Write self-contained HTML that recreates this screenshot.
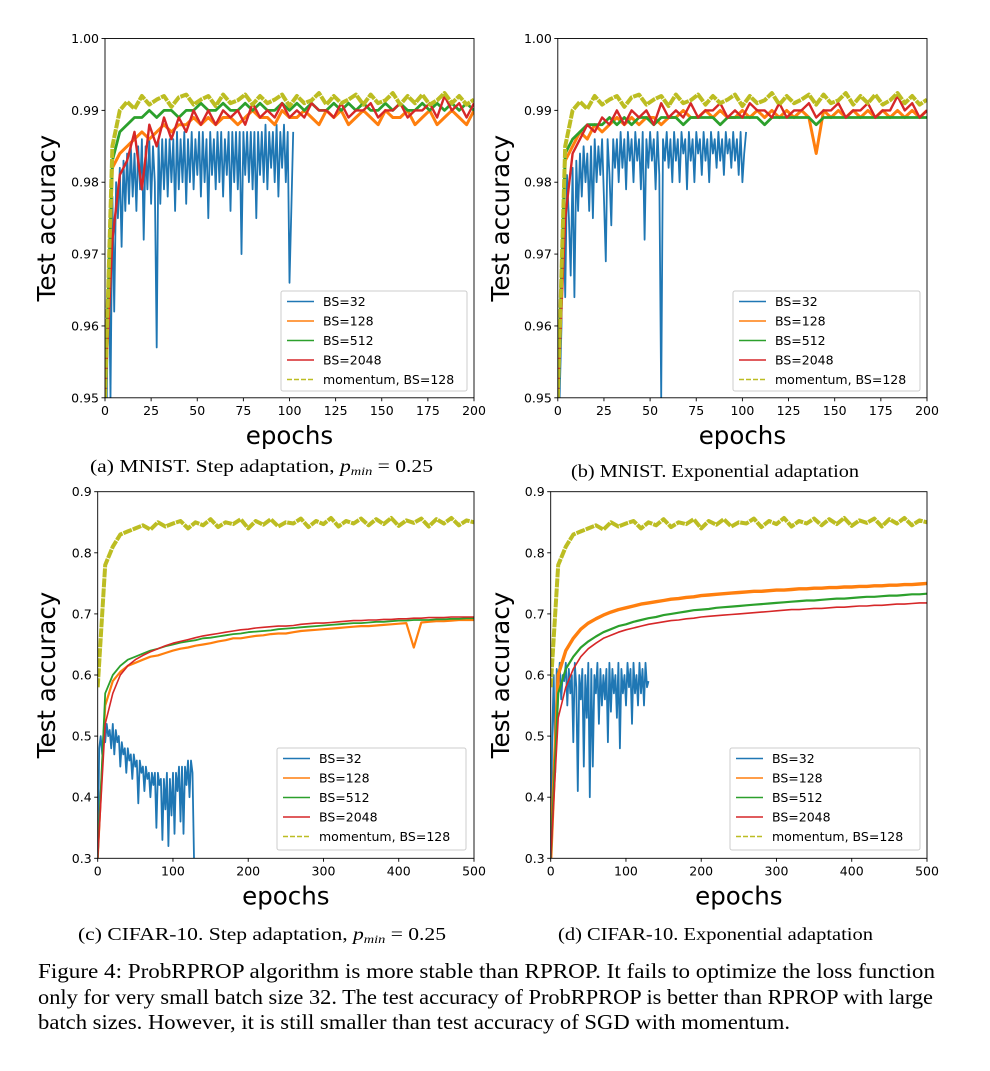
<!DOCTYPE html>
<html><head><meta charset="utf-8"><style>
body{margin:0;background:#fff;}
svg{display:block;}
.tk{font-family:"DejaVu Sans","Liberation Sans",sans-serif;font-size:12.5px;fill:#000;}
.lab{font-family:"DejaVu Sans","Liberation Sans",sans-serif;font-size:24.5px;fill:#000;}
.lg{font-family:"DejaVu Sans","Liberation Sans",sans-serif;font-size:12.5px;fill:#000;}
.cap{font-family:"Liberation Serif",serif;font-size:18px;fill:#000;}
.fig{font-family:"Liberation Serif",serif;font-size:21.5px;fill:#000;}
</style></head><body>
<svg id="root" width="990" height="1071" viewBox="0 0 990 1071">
<text class="cap" x="90" y="472" textLength="343" lengthAdjust="spacingAndGlyphs">(a) MNIST. Step adaptation, <tspan font-style="italic">p</tspan><tspan font-style="italic" font-size="12" dy="3">min</tspan><tspan dy="-3"> = 0.25</tspan></text>
<text class="cap" x="571" y="477" textLength="288" lengthAdjust="spacingAndGlyphs">(b) MNIST. Exponential adaptation</text>
<text class="cap" x="78" y="940" textLength="368" lengthAdjust="spacingAndGlyphs">(c) CIFAR-10. Step adaptation, <tspan font-style="italic">p</tspan><tspan font-style="italic" font-size="12" dy="3">min</tspan><tspan dy="-3"> = 0.25</tspan></text>
<text class="cap" x="558" y="940" textLength="315" lengthAdjust="spacingAndGlyphs">(d) CIFAR-10. Exponential adaptation</text>
<text class="fig" x="38" y="978" textLength="897" lengthAdjust="spacingAndGlyphs">Figure 4: ProbRPROP algorithm is more stable than RPROP. It fails to optimize the loss function</text>
<text class="fig" x="38" y="1004" textLength="895" lengthAdjust="spacingAndGlyphs">only for very small batch size 32. The test accuracy of ProbRPROP is better than RPROP with large</text>
<text class="fig" x="38" y="1029" textLength="752" lengthAdjust="spacingAndGlyphs">batch sizes. However, it is still smaller than test accuracy of SGD with momentum.</text>
</svg>
<script>
// ---- data ----
const legendLabels = ["BS=32","BS=128","BS=512","BS=2048","momentum, BS=128"];
const colors = ["#1f77b4","#ff7f0e","#2ca02c","#d62728","#bcbd22"];
const mnistTicksX = [0,25,50,75,100,125,150,175,200];
const mnistTicksY = [0.95,0.96,0.97,0.98,0.99,1.00];
const mnistTickLabelsY = ["0.95","0.96","0.97","0.98","0.99","1.00"];
const cifarTicksX = [0,100,200,300,400,500];
const cifarTicksY = [0.3,0.4,0.5,0.6,0.7,0.8,0.9];
const cifarTickLabelsY = ["0.3","0.4","0.5","0.6","0.7","0.8","0.9"];
// last epoch per series
const lastA = [102,200,200,200,200];
const lastC = [128,500,500,500,500];
const lastD = [130,500,500,500,500];

const a32 = [0.95,0.95,0.97,0.95,0.978,0.962,0.98,0.975,0.982,0.971,
0.983,0.976,0.984,0.977,0.985,0.978,0.984,0.976,0.985,0.979,
0.986,0.972,0.985,0.979,0.986,0.977,0.985,0.98,0.957,0.986,
0.977,0.986,0.979,0.986,0.978,0.986,0.98,0.986,0.976,0.987,
0.979,0.986,0.98,0.987,0.977,0.986,0.98,0.987,0.979,0.986,
0.981,0.987,0.978,0.987,0.98,0.986,0.975,0.987,0.981,0.986,
0.979,0.987,0.98,0.987,0.978,0.986,0.981,0.987,0.976,0.987,
0.98,0.987,0.979,0.987,0.97,0.987,0.981,0.987,0.98,0.987,
0.979,0.987,0.975,0.987,0.981,0.987,0.98,0.988,0.979,0.987,
0.982,0.987,0.98,0.988,0.978,0.987,0.982,0.988,0.98,0.987,
0.966,0.976,0.987];
const a128 = [0.95,0.982,0.984,0.985,0.986,0.987,0.986,0.987,0.988,0.987,0.988,0.988,0.989,0.988,0.989,0.988,0.989,0.989,0.988,0.989,0.990,0.989,0.989,0.988,0.990,0.989,0.989,0.990,0.989,0.988,0.990,0.989,0.990,0.988,0.989,0.990,0.989,0.988,0.990,0.989,0.989,0.990,0.988,0.989,0.990,0.988,0.989,0.990,0.989,0.988,0.990];
const a512 = [0.95,0.983,0.987,0.988,0.989,0.989,0.990,0.989,0.990,0.990,0.989,0.990,0.990,0.991,0.990,0.990,0.991,0.990,0.990,0.991,0.990,0.991,0.990,0.990,0.991,0.990,0.991,0.990,0.991,0.990,0.990,0.991,0.990,0.991,0.990,0.991,0.990,0.990,0.991,0.990,0.991,0.990,0.990,0.991,0.990,0.991,0.990,0.991,0.990,0.991,0.990];
const a2048 = [0.95,0.972,0.981,0.983,0.987,0.979,0.988,0.985,0.989,0.986,0.989,0.987,0.990,0.988,0.990,0.988,0.990,0.989,0.990,0.988,0.991,0.989,0.990,0.989,0.991,0.989,0.990,0.989,0.991,0.990,0.990,0.989,0.991,0.989,0.990,0.990,0.991,0.989,0.990,0.990,0.991,0.989,0.990,0.990,0.991,0.989,0.992,0.990,0.991,0.989,0.991];
const aMom = [0.95,0.985,0.990,0.9912,0.9902,0.992,0.9908,0.9915,0.992,0.9905,0.9918,0.9922,0.9908,0.9915,0.992,0.9906,0.9922,0.991,0.9914,0.9922,0.9908,0.992,0.991,0.9915,0.9922,0.9906,0.992,0.991,0.9914,0.9924,0.9908,0.992,0.991,0.9915,0.9922,0.9908,0.9922,0.991,0.9914,0.9924,0.9908,0.992,0.991,0.9922,0.9908,0.9914,0.9924,0.991,0.992,0.9908,0.9915];

const b32 = [0.95,0.95,0.96,0.978,0.964,0.981,0.975,0.967,0.982,0.964,
0.983,0.976,0.984,0.978,0.985,0.98,0.984,0.976,0.985,0.975,
0.986,0.98,0.985,0.981,0.986,0.978,0.969,0.986,0.981,0.974,
0.986,0.982,0.986,0.98,0.987,0.982,0.986,0.979,0.987,0.983,
0.986,0.98,0.987,0.983,0.986,0.979,0.987,0.972,0.986,0.982,
0.987,0.983,0.986,0.979,0.987,0.981,0.95,0.986,0.983,0.987,
0.982,0.986,0.98,0.987,0.983,0.986,0.98,0.987,0.984,0.986,
0.979,0.987,0.983,0.986,0.98,0.987,0.984,0.986,0.981,0.987,
0.983,0.986,0.98,0.987,0.984,0.986,0.982,0.987,0.983,0.986,
0.981,0.987,0.984,0.986,0.982,0.987,0.983,0.986,0.981,0.987,
0.98,0.984,0.987];
const b128 = [0.95,0.983,0.985,0.987,0.986,0.988,0.987,0.988,0.989,0.988,0.989,0.988,0.989,0.989,0.988,0.989,0.989,0.990,0.989,0.989,0.990,0.989,0.990,0.989,0.989,0.990,0.989,0.990,0.989,0.990,0.989,0.990,0.989,0.990,0.989,0.984,0.990,0.989,0.990,0.989,0.990,0.989,0.990,0.989,0.990,0.989,0.990,0.989,0.990,0.989,0.990];
const b512 = [0.95,0.984,0.986,0.987,0.988,0.988,0.988,0.989,0.988,0.989,0.988,0.989,0.989,0.988,0.989,0.989,0.989,0.988,0.989,0.989,0.989,0.989,0.988,0.989,0.989,0.989,0.989,0.989,0.988,0.989,0.989,0.989,0.989,0.989,0.989,0.988,0.989,0.989,0.989,0.989,0.989,0.989,0.989,0.989,0.989,0.989,0.989,0.989,0.989,0.989,0.989];
const b2048 = [0.95,0.975,0.984,0.986,0.988,0.987,0.989,0.988,0.990,0.988,0.990,0.989,0.990,0.988,0.991,0.989,0.990,0.989,0.991,0.989,0.990,0.990,0.991,0.989,0.990,0.989,0.991,0.990,0.990,0.989,0.991,0.989,0.990,0.990,0.991,0.989,0.990,0.990,0.991,0.989,0.990,0.990,0.991,0.989,0.990,0.990,0.992,0.990,0.991,0.989,0.990];
const bMom = aMom;

const c32 = [0.3,0.48,0.5,0.47,0.51,0.49,0.52,0.5,0.51,0.48,
0.52,0.47,0.51,0.49,0.5,0.45,0.49,0.47,0.48,0.44,
0.48,0.46,0.47,0.43,0.47,0.45,0.46,0.39,0.46,0.44,
0.45,0.41,0.45,0.43,0.44,0.4,0.44,0.42,0.44,0.35,
0.44,0.42,0.43,0.33,0.43,0.38,0.44,0.32,0.43,0.37,
0.44,0.34,0.44,0.41,0.45,0.36,0.45,0.34,0.45,0.42,
0.46,0.4,0.46,0.44,0.3];
const c128 = [0.3,0.55,0.59,0.605,0.615,0.62,0.625,0.63,0.632,0.636,0.64,0.643,0.645,0.648,0.65,0.652,0.655,0.657,0.66,0.66,0.662,0.664,0.665,0.667,0.668,0.668,0.67,0.672,0.673,0.674,0.675,0.676,0.677,0.678,0.679,0.68,0.68,0.681,0.682,0.683,0.684,0.685,0.645,0.686,0.687,0.688,0.688,0.689,0.69,0.69,0.69];
const c512 = [0.3,0.57,0.6,0.615,0.625,0.63,0.635,0.64,0.643,0.647,0.65,0.653,0.655,0.657,0.66,0.661,0.663,0.665,0.667,0.668,0.67,0.671,0.672,0.673,0.675,0.676,0.677,0.678,0.679,0.68,0.681,0.682,0.683,0.684,0.685,0.685,0.686,0.687,0.687,0.688,0.689,0.689,0.69,0.69,0.69,0.691,0.691,0.692,0.692,0.693,0.693];
const c2048 = [0.3,0.52,0.57,0.6,0.615,0.625,0.632,0.638,0.643,0.648,0.652,0.655,0.658,0.661,0.664,0.666,0.668,0.67,0.672,0.674,0.675,0.677,0.678,0.679,0.68,0.68,0.681,0.683,0.684,0.685,0.685,0.686,0.687,0.688,0.689,0.689,0.69,0.69,0.691,0.691,0.692,0.692,0.693,0.693,0.694,0.694,0.694,0.695,0.695,0.695,0.695];
const cMom = [0.58,0.78,0.81,0.83,0.835,0.84,0.845,0.838,0.85,0.843,0.848,0.852,0.84,0.85,0.845,0.855,0.842,0.85,0.847,0.855,0.84,0.852,0.846,0.855,0.843,0.85,0.848,0.856,0.842,0.852,0.847,0.857,0.843,0.852,0.848,0.856,0.845,0.855,0.847,0.857,0.844,0.853,0.849,0.856,0.843,0.855,0.848,0.857,0.845,0.853,0.85];

const d32 = [0.3,0.5,0.6,0.44,0.61,0.58,0.62,0.56,0.6,0.59,
0.62,0.55,0.61,0.57,0.6,0.49,0.62,0.58,0.41,0.6,
0.56,0.61,0.45,0.6,0.53,0.62,0.4,0.61,0.45,0.6,
0.57,0.62,0.52,0.61,0.55,0.6,0.56,0.61,0.49,0.62,
0.54,0.61,0.57,0.6,0.53,0.62,0.48,0.61,0.57,0.6,
0.55,0.62,0.58,0.61,0.52,0.62,0.57,0.6,0.55,0.62,
0.57,0.61,0.55,0.62,0.58,0.59];
const d128 = [0.3,0.6,0.64,0.66,0.675,0.685,0.692,0.698,0.703,0.707,0.71,0.713,0.716,0.718,0.72,0.722,0.724,0.725,0.727,0.728,0.73,0.731,0.732,0.733,0.734,0.735,0.736,0.737,0.737,0.738,0.739,0.739,0.74,0.741,0.741,0.742,0.742,0.743,0.743,0.744,0.744,0.745,0.745,0.746,0.746,0.747,0.747,0.748,0.748,0.749,0.75];
const d512 = [0.3,0.57,0.61,0.63,0.645,0.655,0.663,0.67,0.675,0.68,0.683,0.687,0.69,0.693,0.695,0.698,0.7,0.702,0.704,0.706,0.707,0.708,0.71,0.711,0.712,0.713,0.714,0.715,0.716,0.717,0.718,0.719,0.72,0.721,0.722,0.722,0.723,0.724,0.725,0.725,0.726,0.727,0.728,0.728,0.729,0.73,0.73,0.731,0.732,0.732,0.733];
const d2048 = [0.3,0.53,0.58,0.61,0.63,0.643,0.652,0.66,0.665,0.67,0.674,0.677,0.68,0.683,0.685,0.687,0.689,0.69,0.692,0.693,0.695,0.696,0.697,0.698,0.699,0.7,0.701,0.702,0.703,0.704,0.705,0.706,0.707,0.707,0.708,0.709,0.709,0.71,0.711,0.711,0.712,0.713,0.713,0.714,0.714,0.715,0.716,0.716,0.717,0.718,0.718];
const dMom = cMom;

const NS = "http://www.w3.org/2000/svg";
const root = document.getElementById("root");
function mk(tag, attrs, parent){
  const e = document.createElementNS(NS, tag);
  for (const k in attrs) e.setAttribute(k, attrs[k]);
  (parent||root).appendChild(e);
  return e;
}

function panel(id, box, xMax, yMin, yMax, ticksX, ticksY, tickLabelsY, series, lasts, widths, legendBox){
  const g = mk("g", {});
  
  
  const sx = v => box.x0 + (v / xMax) * (box.x1 - box.x0);
  const sy = v => box.y1 - (v - yMin) / (yMax - yMin) * (box.y1 - box.y0);
  const clipId = "clip-" + id;
  const cp = mk("clipPath", {id: clipId}, g);
  mk("rect", {x: box.x0, y: box.y0, width: box.x1 - box.x0, height: box.y1 - box.y0}, cp);
  const plot = mk("g", {"clip-path": "url(#" + clipId + ")"}, g);
  series.forEach((vals, si) => {
    const n = vals.length;
    const pts = vals.map((v, i) => sx(i * lasts[si] / (n - 1)).toFixed(1) + "," + sy(v).toFixed(1)).join(" ");
    const pl = mk("polyline", {points: pts, fill: "none", stroke: colors[si], "stroke-width": widths[si], "stroke-linejoin": "round"}, plot);
    if (si === 4) pl.setAttribute("stroke-dasharray", "9,1");
    
    
  });
  const frame = mk("rect", {x: box.x0, y: box.y0, width: box.x1 - box.x0, height: box.y1 - box.y0, fill: "none", stroke: "#000", "stroke-width": 0.9}, g);
  
  
  ticksX.forEach(t => {
    const x = sx(t);
    mk("line", {x1: x, x2: x, y1: box.y1, y2: box.y1 + 3.5, stroke: "#000", "stroke-width": 0.9}, g);
    const tx = mk("text", {x: x, y: box.y1 + 17, "text-anchor": "middle", class: "tk"}, g);
    tx.textContent = String(t);
    
    
  });
  ticksY.forEach((t, i) => {
    const y = sy(t);
    mk("line", {x1: box.x0 - 3.5, x2: box.x0, y1: y, y2: y, stroke: "#000", "stroke-width": 0.9}, g);
    const ty = mk("text", {x: box.x0 - 6, y: y + 4.5, "text-anchor": "end", class: "tk"}, g);
    ty.textContent = tickLabelsY[i];
    
    
  });
  const xl = mk("text", {x: (box.x0 + box.x1) / 2, y: box.y1 + 46, "text-anchor": "middle", class: "lab"}, g);
  xl.textContent = "epochs";
  
  
  const ycx = box.ylx, ycy = (box.y0 + box.y1) / 2;
  const yl = mk("text", {x: ycx, y: ycy, "text-anchor": "middle", class: "lab", transform: "rotate(-90 " + ycx + " " + ycy + ")"}, g);
  yl.textContent = "Test accuracy";
  
  
  // legend
  const lg = mk("g", {}, g);
  
  
  mk("rect", {x: legendBox.x, y: legendBox.y, width: legendBox.w, height: legendBox.h, rx: 2, fill: "#fff", "fill-opacity": 0.8, stroke: "#ccc", "stroke-width": 1}, lg);
  legendLabels.forEach((lab, i) => {
    const yy = legendBox.y + 10.5 + i * 19.5;
    const ln = mk("line", {x1: legendBox.x + 6, x2: legendBox.x + 33, y1: yy, y2: yy, stroke: colors[i], "stroke-width": 1.6}, lg);
    if (i === 4) ln.setAttribute("stroke-dasharray", "5,2");
    const t = mk("text", {x: legendBox.x + 42, y: yy + 4.5, class: "lg"}, lg);
    t.textContent = lab;
    
    
  });
}

const wMnist = [1.8,3,2.8,2.4,4];
const wCifar = [1.8,2.2,1.8,1.6,4];
const wCifarD = [1.8,3.4,2.2,1.6,4];
panel("a", {x0:105, x1:474, y0:38.5, y1:397.8, ylx:55}, 200, 0.95, 1.00, mnistTicksX, mnistTicksY, mnistTickLabelsY, [a32,a128,a512,a2048,aMom], lastA, wMnist, {x:281, y:291, w:186, h:100});
panel("b", {x0:557.8, x1:927, y0:38.5, y1:397.8, ylx:509}, 200, 0.95, 1.00, mnistTicksX, mnistTicksY, mnistTickLabelsY, [b32,b128,b512,b2048,bMom], lastA, wMnist, {x:733, y:291, w:187, h:100});
panel("c", {x0:97.7, x1:474, y0:491.7, y1:858.3, ylx:55}, 500, 0.3, 0.9, cifarTicksX, cifarTicksY, cifarTickLabelsY, [c32,c128,c512,c2048,cMom], lastC, wCifar, {x:277, y:748, w:189, h:102});
panel("d", {x0:550.7, x1:927, y0:491.7, y1:858.3, ylx:509}, 500, 0.3, 0.9, cifarTicksX, cifarTicksY, cifarTickLabelsY, [d32,d128,d512,d2048,dMom], lastD, wCifarD, {x:730, y:748, w:190, h:102});
</script>
</body></html>
